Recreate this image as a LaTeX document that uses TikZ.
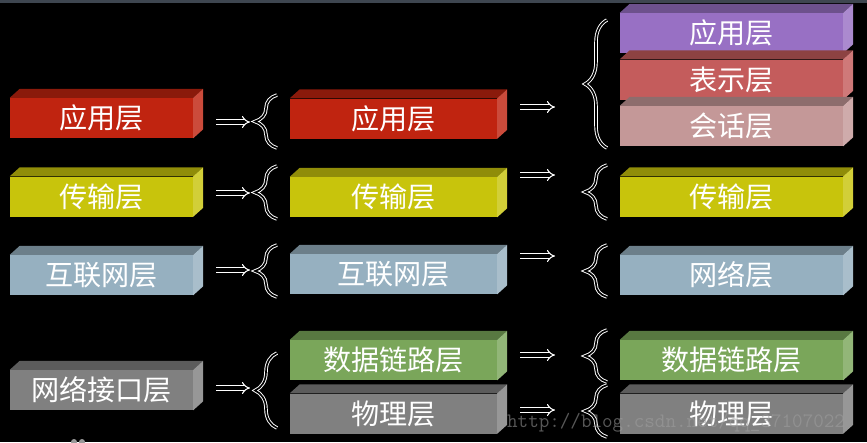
\documentclass[tikz,border=0pt]{standalone}
\usepackage{fontspec}
\newfontfamily\cjk{Noto Sans CJK SC}
\usetikzlibrary{arrows.meta,decorations.pathreplacing}
\definecolor{appred}{RGB}{192,36,16}
\definecolor{transyel}{RGB}{200,196,12}
\definecolor{netblue}{RGB}{150,176,192}
\definecolor{ifgray}{RGB}{128,128,128}
\definecolor{linkgreen}{RGB}{122,166,90}
\definecolor{apppurple}{RGB}{152,112,196}
\definecolor{presred}{RGB}{196,92,92}
\definecolor{sesspink}{RGB}{196,152,152}
\definecolor{topbar}{RGB}{62,70,80}

\begin{document}
\begin{tikzpicture}[x=0.03cm,y=-0.03cm,
    layer/.style={rectangle,inner sep=0pt,minimum height=1.2cm,text=white,
      font=\cjk\fontsize{24}{26}\selectfont},
    colone/.style={layer,minimum width=5.49cm},
    coltwo/.style={layer,minimum width=6.21cm},
    colthree/.style={layer,minimum width=6.69cm},
    imp/.style={draw=white,double=black,double distance=2.6pt,line width=0.9pt,
      -{Implies},shorten <=0.69cm},
    brc/.style={decorate,decoration={brace,amplitude=0.66cm},
      draw=white,double=black,double distance=1.4pt,line width=0.8pt},
    wm/.style={anchor=base west,text=gray!75,opacity=0.55,
      font=\ttfamily\fontsize{17.5}{20}\selectfont}]
        \fill [black] (0,0) rectangle (867,442);
        \useasboundingbox (0,0) rectangle (867,442);
        \fill [topbar] (0,0) rectangle (867,3);

        % left column
        \node [colone,fill=appred] at (101.5,118) (app){应用层};
        \node [colone,fill=transyel] at (101.5,196.5) (trans){传输层};
        \node [colone,fill=netblue] at (101.5,275) (inet){互联网层};
        \node [colone,fill=ifgray] at (101.5,390) (nif){网络接口层};

        % middle column
        \node [coltwo,fill=appred] at (393.5,118.5) (app2){应用层};
        \node [coltwo,fill=transyel] at (393.5,197) (trans2){传输层};
        \node [coltwo,fill=netblue] at (393.5,274) (inet2){互联网层};
        \node [coltwo,fill=linkgreen] at (393.5,360) (link2){数据链路层};
        \node [coltwo,fill=ifgray] at (393.5,413.5) (phy2){物理层};

        % right column
        \node [colthree,fill=apppurple] at (731.5,33) (app3){应用层};
        \node [colthree,fill=presred] at (731.5,79.5) (pres3){表示层};
        \node [colthree,fill=sesspink] at (731.5,126) (sess3){会话层};
        \node [colthree,fill=transyel] at (731.5,196.5) (trans3){传输层};
        \node [colthree,fill=netblue] at (731.5,275) (net3){网络层};
        \node [colthree,fill=linkgreen] at (731.5,360) (link3){数据链路层};
        \node [colthree,fill=ifgray] at (731.5,413.5) (phy3){物理层};

        % top and side faces
        \foreach \n/\c in {app/appred,trans/transyel,inet/netblue,nif/ifgray,
            app2/appred,trans2/transyel,inet2/netblue,link2/linkgreen,phy2/ifgray,
            app3/apppurple,pres3/presred,sess3/sesspink,trans3/transyel,
            net3/netblue,link3/linkgreen,phy3/ifgray} {
          \fill [\c!72!black] (\n.north west) -- ++(10,-9) -- ([shift={(10,-9)}]\n.north east) -- (\n.north east) -- cycle;
          \fill [\c!82!white] (\n.north east) -- ++(10,-9) -- ([shift={(10,-9)}]\n.south east) -- (\n.south east) -- cycle;
        }

        % braces
        \draw [brc] (277,148) -- (277,95);
        \draw [brc] (277,219) -- (277,166);
        \draw [brc] (277,297) -- (277,245);
        \draw [brc] (277,428) -- (277,353);
        \draw [brc] (607,148) -- (607,20);
        \draw [brc] (607,219) -- (607,165);
        \draw [brc] (607,297) -- (607,245);
        \draw [brc] (607,382) -- (607,330);
        \draw [brc] (607,437) -- (607,385);

        % arrows
        \coordinate (t1) at (250,122);
        \coordinate (t2) at (250,193);
        \coordinate (t3) at (250,270);
        \coordinate (t4) at (250,388);
        \coordinate (u1) at (555,107);
        \coordinate (u2) at (555,175);
        \coordinate (u3) at (555,256);
        \coordinate (u4) at (555,355);
        \coordinate (u5) at (555,410);

        \draw [imp] (app.east |- t1) -- (t1);
        \draw [imp] (trans.east |- t2) -- (t2);
        \draw [imp] (inet.east |- t3) -- (t3);
        \draw [imp] (nif.east |- t4) -- (t4);
        \draw [imp] (app2.east |- u1) -- (u1);
        \draw [imp] (trans2.east |- u2) -- (u2);
        \draw [imp] (inet2.east |- u3) -- (u3);
        \draw [imp] (link2.east |- u4) -- (u4);
        \draw [imp] (phy2.east |- u5) -- (u5);

        \fill [gray!80] (74,442) circle (3);
        \fill [gray!80] (82,442) circle (3);
        \node [wm] at (503,427) (mark){http://blog.csdn.net/qq\_37107022};
      \end{tikzpicture}
\end{document}
